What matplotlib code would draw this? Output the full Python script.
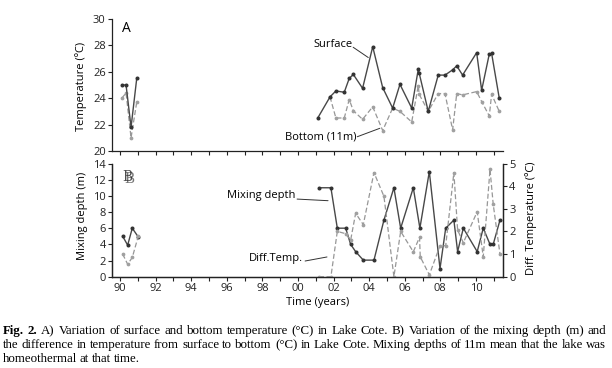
import matplotlib; matplotlib.use("Agg")
import matplotlib.pyplot as plt
from matplotlib.ticker import MultipleLocator, FixedLocator

# ---- data (decimal years) ----
early_t = [1990.10, 1990.34, 1990.62, 1990.94]
early_surf = [25.0, 25.0, 21.8, 25.5]
early_bot = [24.0, 24.4, 21.0, 23.7]

surf_t = [2001.11, 2001.80, 2002.13, 2002.60, 2002.88, 2003.11, 2003.63, 2004.20, 2004.76,
          2005.32, 2005.73, 2006.39, 2006.76, 2006.81, 2007.32, 2007.88, 2008.26, 2008.69,
          2008.92, 2009.25, 2010.04, 2010.32, 2010.75, 2010.88, 2011.31]
surf = [22.5, 24.1, 24.55, 24.45, 25.5, 25.8, 24.75, 27.9, 24.8, 23.25, 25.05, 23.25, 26.2,
        25.9, 23.0, 25.75, 25.75, 26.15, 26.45, 25.75, 27.45, 24.6, 27.35, 27.4, 24.0]
bot_t = surf_t[1:]
bot = [24.1, 22.5, 22.5, 23.9, 23.05, 22.4, 23.35, 21.55, 23.25, 23.0, 22.2, 24.95, 24.3,
       23.0, 24.35, 24.35, 21.6, 24.35, 24.25, 24.5, 23.75, 22.65, 24.3, 23.0]

early_mix_t = [1990.15, 1990.43, 1990.69, 1991.03]
early_mix = [5.0, 3.9, 6.0, 4.9]
early_diff = [1.0, 0.55, 0.85, 1.8]

mix_t = [2001.18, 2001.85, 2002.21, 2002.68, 2002.96, 2003.24, 2003.67, 2004.27, 2004.83,
         2005.39, 2005.77, 2006.48, 2006.85, 2007.38, 2007.98, 2008.30, 2008.76, 2008.97,
         2009.29, 2010.07, 2010.41, 2010.79, 2010.97, 2011.35]
mix = [11, 11, 6, 6, 4.0, 3.1, 2.05, 2.05, 7.0, 11, 6, 11, 6, 13.0, 1.0, 6, 7, 3.1, 6, 3.1,
       6, 4, 4, 7]
diff_t = [2001.18, 2001.85, 2002.21, 2002.68, 2002.96, 2003.24, 2003.67, 2004.27, 2004.83,
          2005.39, 2005.77, 2006.48, 2006.83, 2006.87, 2007.38, 2007.98, 2008.30, 2008.76,
          2008.97, 2009.29, 2010.07, 2010.41, 2010.79, 2010.97, 2011.35]
diff = [0, 0, 2.0, 1.9, 1.62, 2.8, 2.3, 4.6, 3.55, 0, 2.0, 1.1, 1.74, 0.88, 0.08, 1.37, 1.37,
        4.6, 2.06, 1.5, 2.87, 0.88, 4.74, 3.2, 1.0]

years = list(range(1990, 2012))
year_labels = ["90", "92", "94", "96", "98", "00", "02", "04", "06", "08", "10"]

caption = [
    [("Fig. 2.", "bold"), ("A) Variation of surface and bottom temperature (°C) in Lake Cote. "
                           "B) Variation of the mixing depth (m) and", "normal")],
    [("the difference in temperature from surface to bottom (°C) in Lake Cote. Mixing depths "
      "of 11m mean that the lake was", "normal")],
    [("homeothermal at that time.", "normal")],
]

plt.rcParams["font.family"] = ["Open Sans", "DejaVu Sans"]
plt.rcParams["font.size"] = 8

W, H = 612, 368
fig = plt.figure(figsize=(W / 100, H / 100), dpi=100)
L, R = 112, 503
ax1 = fig.add_axes([L / W, 1 - 151 / H, (R - L) / W, (151 - 19) / H])
ax2 = fig.add_axes([L / W, 1 - 276.7 / H, (R - L) / W, (276.7 - 163.5) / H])
ax3 = ax2.twinx()

sol = dict(color="#484848", lw=1.0, marker="o", ms=1.9, mfc="#333333", mec="#333333")
das = dict(color="#979797", lw=0.9, ls=(0, (4, 2)), marker="o", ms=1.7, mfc="#a0a0a0", mec="#a0a0a0")

ax1.plot(early_t, early_bot, **das)
ax1.plot(bot_t, bot, **das)
ax1.plot(early_t, early_surf, **sol)
ax1.plot(surf_t, surf, **sol)

ax3.plot(early_mix_t, early_diff, **das)
ax3.plot(diff_t, diff, **das)
ax2.plot(early_mix_t, early_mix, **sol)
ax2.plot(mix_t, mix, **sol)

xlim = (1989.55, 2011.52)
for ax in (ax1, ax2, ax3):
    ax.set_xlim(*xlim)
    ax.xaxis.set_major_locator(FixedLocator(years[::2]))
    ax.xaxis.set_minor_locator(FixedLocator(years[1::2]))
    ax.tick_params(axis="both", which="both", direction="out", length=3, width=0.8,
                   colors="#222222", labelsize=8, pad=1.5)
    for s in ax.spines.values():
        s.set_linewidth(0.9)
        s.set_color("#222222")
ax1.set_ylim(20, 30)
ax1.yaxis.set_major_locator(MultipleLocator(2))
ax1.tick_params(axis="x", labelbottom=False)
ax1.spines["top"].set_visible(False)
ax1.spines["right"].set_visible(False)

ax2.set_ylim(0, 14)
ax2.yaxis.set_major_locator(MultipleLocator(2))
ax2.set_xticklabels(year_labels)
ax2.spines["top"].set_visible(False)
ax3.spines["top"].set_visible(False)
ax3.set_ylim(0, 5)
ax3.yaxis.set_major_locator(MultipleLocator(1))

# panel letters and labels (the reference shows a doubled "B")
ax1.text(0.026, 0.93, "A", transform=ax1.transAxes, fontsize=10, va="center", ha="left")
ax2.text(0.031, 0.865, "B", transform=ax2.transAxes, fontsize=10, va="center", ha="left",
         color="#777777", family="DejaVu Serif")
ax2.text(0.027, 0.885, "B", transform=ax2.transAxes, fontsize=10, va="center", ha="left",
         color="#222222", family="DejaVu Serif", alpha=0.8)

ax1.text(2003.05, 28.1, "Surface", ha="right", va="center", fontsize=8)
ax1.annotate("", xy=(2003.95, 27.08), xytext=(2003.1, 27.86),
             arrowprops=dict(arrowstyle="-", lw=0.7, color="#333333", shrinkA=0, shrinkB=0))
ax1.text(2003.28, 21.08, "Bottom (11m)", ha="right", va="center", fontsize=8)
ax1.annotate("", xy=(2004.6, 21.72), xytext=(2003.33, 21.08),
             arrowprops=dict(arrowstyle="-", lw=0.7, color="#333333", shrinkA=0, shrinkB=0))
ax2.text(1999.85, 10.05, "Mixing depth", ha="right", va="center", fontsize=8)
ax2.annotate("", xy=(2001.69, 9.4), xytext=(1999.95, 9.6),
             arrowprops=dict(arrowstyle="-", lw=0.7, color="#333333", shrinkA=0, shrinkB=0))
ax2.text(2000.3, 2.2, "Diff.Temp.", ha="right", va="center", fontsize=8)
ax2.annotate("", xy=(2001.63, 2.44), xytext=(2000.4, 1.94),
             arrowprops=dict(arrowstyle="-", lw=0.7, color="#333333", shrinkA=0, shrinkB=0))

fig.text(81 / W, 1 - 86 / H, "Temperature (ºC)", rotation=90, ha="center", va="center", fontsize=8)
fig.text(82 / W, 1 - 216 / H, "Mixing depth (m)", rotation=90, ha="center", va="center", fontsize=8)
fig.text(531 / W, 1 - 218 / H, "Diff. Temperature (ºC)", rotation=90, ha="center", va="center", fontsize=8)
fig.text(318 / W, 1 - 302 / H, "Time (years)", ha="center", va="center", fontsize=8)


# caption, justified like the print version
def put_line(parts, ypix, justify):
    words = []
    for txt, wt in parts:
        for w in txt.split():
            words.append(fig.text(0, 1 - ypix / H, w, fontsize=9.3, family="Liberation Serif",
                                  weight=wt, va="center", ha="left"))
    r = fig.canvas.get_renderer()
    widths = [t.get_window_extent(r).width for t in words]
    x0, x1 = 3, 606
    space = (x1 - x0 - sum(widths)) / (len(words) - 1) if justify else 2.6
    x = x0
    for t, w in zip(words, widths):
        t.set_x(x / W)
        x += w + space


for i, parts in enumerate(caption):
    put_line(parts, 331 + 14 * i, i < len(caption) - 1)

fig.savefig("out.png", dpi=100)
